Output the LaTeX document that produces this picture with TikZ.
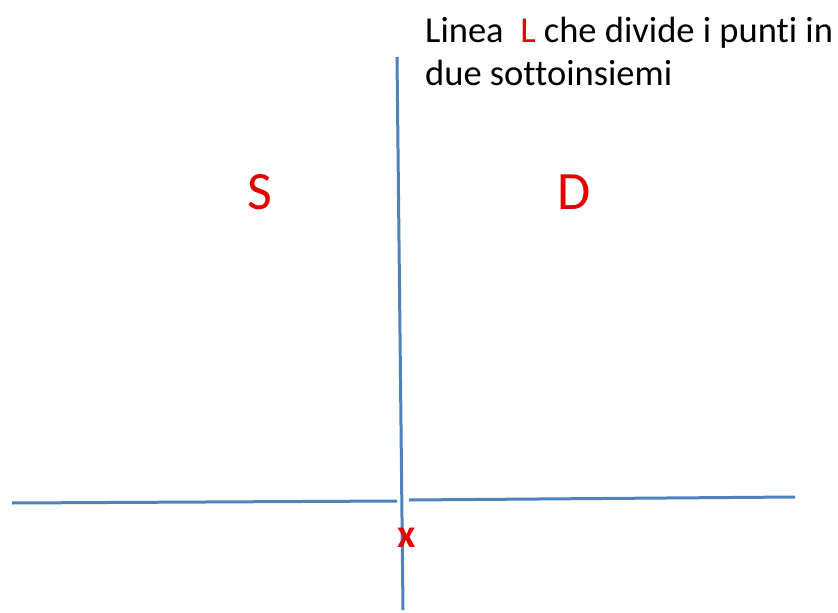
\documentclass[tikz,border=0pt]{standalone}
\usepackage{fontspec}
\setmainfont{Carlito}[Ligatures=NoCommon]
\definecolor{lineablu}{RGB}{79,129,189}
\definecolor{rosso}{RGB}{228,0,0}
\begin{document}
\begin{tikzpicture}[x=1pt, y=-1pt, every node/.style={inner sep=0pt},
    retta/.style={lineablu, line width=3pt},
    lettera/.style={rosso, font=\fontsize{54}{60}\selectfont},
    didascalia/.style={anchor=base west, font=\fontsize{36.5}{43}\selectfont}]
    \useasboundingbox (0,0) rectangle (838,613);
    % Estremi delle rette
    \coordinate (Lalto) at (397,57);
    \coordinate (Lbasso) at (403,610);
    \coordinate (Hsx) at (12,503);
    \coordinate (Hsxint) at (397,501);
    \coordinate (Hdxint) at (409,500);
    \coordinate (Hdx) at (795,497);
    % Retta orizzontale (interrotta dove passa L)
    \draw[retta] (Hsx) -- (Hsxint);
    \draw[retta] (Hdxint) -- (Hdx);
    % Linea L verticale
    \draw[retta] (Lalto) -- (Lbasso);
    % Sottoinsiemi
    \node[lettera] (S) at (259.5,192.5) {S};
    \node[lettera] (D) at (574,192.5) {D};
    % Punto x
    \node[rosso, font=\bfseries\fontsize{40}{44}\selectfont] (x) at (407,538) {x};
    % Didascalia
    \node[didascalia] (riga1) at (425,42) {Linea \ {\color{rosso}L} che divide i punti in};
    \node[didascalia] (riga2) at (425,85) {due sottoinsiemi};
\end{tikzpicture}
\end{document}
